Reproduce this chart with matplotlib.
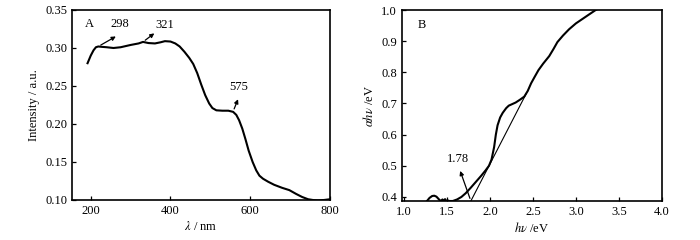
import matplotlib
matplotlib.use("Agg")
import matplotlib.pyplot as plt

plt.rcParams['font.family'] = ['Liberation Serif', 'DejaVu Serif']
plt.rcParams['mathtext.fontset'] = 'stix'

# Panel A: absorption spectrum
wavelength = [192, 200, 207, 213, 219, 228, 240, 257, 275, 300, 320, 331, 345, 361, 375, 386,
              400, 412, 423, 435, 447, 457, 467, 477, 487, 497, 505, 515, 530, 545, 557,
              565, 572, 580, 588, 596, 606, 615, 623, 632, 645, 660, 680, 698, 715, 730,
              745, 757, 770, 785, 800]
intensity = [0.280, 0.290, 0.297, 0.301, 0.302, 0.3015, 0.301, 0.300, 0.301, 0.304, 0.306, 0.308,
             0.3065, 0.306, 0.3075, 0.309, 0.3085, 0.306, 0.302, 0.295, 0.287, 0.279, 0.267,
             0.252, 0.238, 0.227, 0.221, 0.218, 0.2175, 0.2175, 0.216, 0.212, 0.205, 0.194,
             0.180, 0.165, 0.150, 0.139, 0.132, 0.128, 0.124, 0.120, 0.116, 0.113, 0.108,
             0.104, 0.101, 0.100, 0.0995, 0.100, 0.101]
peak_labels = ["298", "321", "575"]
peak_points = [(219, 0.302), (331, 0.308), (557, 0.2165)]
peak_arrow_ends = [(269, 0.317), (365, 0.3215), (572, 0.236)]
peak_text_pos = [(273, 0.332), (386, 0.330), (572, 0.249)]

# Panel B: Tauc plot
energy = [1.27, 1.30, 1.33, 1.355, 1.38, 1.41, 1.43, 1.45, 1.465, 1.48, 1.495, 1.51, 1.53,
          1.57, 1.62, 1.67, 1.72, 1.78, 1.84, 1.90, 1.95, 1.99, 2.02, 2.05, 2.07, 2.09,
          2.12, 2.15, 2.19, 2.22, 2.26, 2.30, 2.35, 2.40, 2.44, 2.48, 2.52, 2.565, 2.62,
          2.69, 2.74, 2.785, 2.85, 2.92, 3.00, 3.08, 3.16, 3.23, 3.30]
ahv = [0.387, 0.397, 0.403, 0.404, 0.401, 0.392, 0.387, 0.392, 0.388, 0.393, 0.387, 0.389,
       0.387, 0.387, 0.392, 0.400, 0.412, 0.430, 0.449, 0.468, 0.485, 0.500, 0.520, 0.560,
       0.600, 0.630, 0.655, 0.670, 0.685, 0.693, 0.698, 0.703, 0.712, 0.722, 0.740, 0.765,
       0.785, 0.807, 0.828, 0.852, 0.875, 0.897, 0.918, 0.938, 0.957, 0.972, 0.987, 1.000, 1.010]
tangent_x = [1.78, 2.42]
tangent_y = [0.387, 0.730]
gap_label = "1.78"

fig = plt.figure(figsize=(7, 2.4), dpi=100)
axA = fig.add_axes([72/700, 40/240, 258/700, 190/240])
axB = fig.add_axes([402/700, 39/240, 260/700, 191/240])

fs = 9
for ax in (axA, axB):
    ax.tick_params(direction='in', length=3, width=0.9, labelsize=fs, top=False, right=False)
    for s in ax.spines.values():
        s.set_linewidth(1.2)

axA.plot(wavelength, intensity, color='black', lw=1.5)
axA.set_xlim(153, 800)
axA.set_ylim(0.10, 0.35)
axA.set_xticks([200, 400, 600, 800])
axA.set_yticks([0.10, 0.15, 0.20, 0.25, 0.30, 0.35])
axA.yaxis.set_major_formatter(matplotlib.ticker.FormatStrFormatter('%.2f'))
axA.set_xlabel(r'$\lambda$ / nm', fontsize=fs, labelpad=2)
axA.set_ylabel('Intensity / a.u.', fontsize=fs, labelpad=4)
axA.text(197, 0.332, 'A', fontsize=fs, ha='center', va='center')
for lab, p, e, t in zip(peak_labels, peak_points, peak_arrow_ends, peak_text_pos):
    axA.annotate('', xy=e, xytext=p,
                 arrowprops=dict(arrowstyle='-|>', color='black', lw=0.9, mutation_scale=6))
    axA.text(t[0], t[1], lab, fontsize=fs, ha='center', va='center')

axB.plot(energy, ahv, color='black', lw=1.5)
axB.plot(tangent_x, tangent_y, color='black', lw=0.8)
axB.set_xlim(0.98, 4.0)
axB.set_ylim(0.387, 1.0)
axB.set_xticks([1.0, 1.5, 2.0, 2.5, 3.0, 3.5, 4.0])
axB.set_yticks([0.4, 0.5, 0.6, 0.7, 0.8, 0.9, 1.0])
axB.xaxis.set_major_formatter(matplotlib.ticker.FormatStrFormatter('%.1f'))
axB.yaxis.set_major_formatter(matplotlib.ticker.FormatStrFormatter('%.1f'))
axB.set_xlabel(r'$h\nu$ /eV', fontsize=fs, labelpad=2)
axB.set_ylabel(r'$\alpha h\nu$ /eV', fontsize=fs, labelpad=4)
axB.text(1.21, 0.952, 'B', fontsize=fs, ha='center', va='center')
axB.annotate('', xy=(1.645, 0.492), xytext=(1.78, 0.387),
             arrowprops=dict(arrowstyle='-|>', color='black', lw=0.9, mutation_scale=6))
axB.text(1.63, 0.523, gap_label, fontsize=fs, ha='center', va='center')

fig.savefig('out.png', dpi=100)
